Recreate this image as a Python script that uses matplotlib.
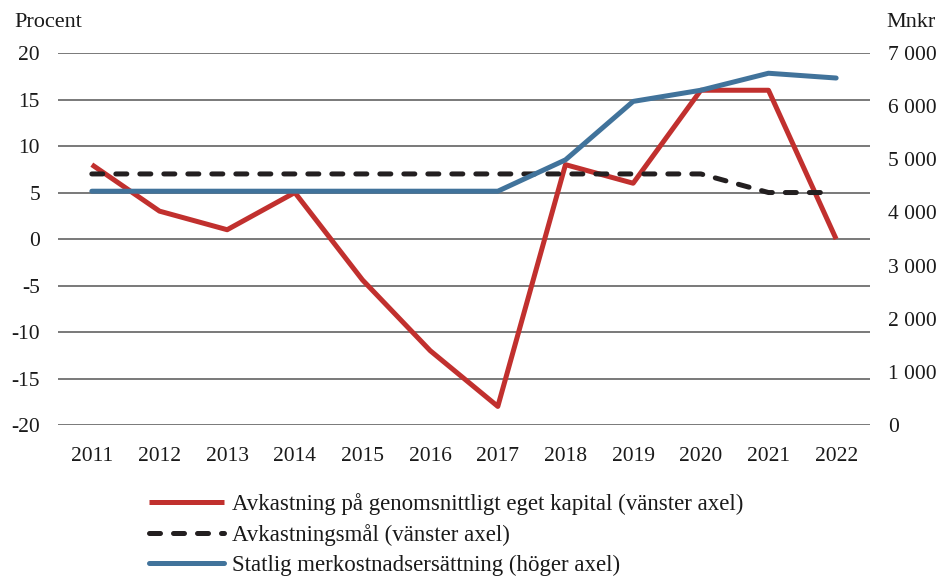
import matplotlib.pyplot as plt

plt.rcParams['font.family'] = ['Liberation Serif', 'DejaVu Serif']
plt.rcParams['axes.unicode_minus'] = False

years = ["2011", "2012", "2013", "2014", "2015", "2016", "2017", "2018", "2019", "2020", "2021", "2022"]
avkastning = [8, 3, 1, 5, -4.4, -12, -18, 8, 6, 16, 16, 0]
avkastningsmal = [7, 7, 7, 7, 7, 7, 7, 7, 7, 7, 5, 5]
ersattning = [4400, 4400, 4400, 4400, 4400, 4400, 4400, 4990, 6090, 6300, 6620, 6530]

left_ticks = [-20, -15, -10, -5, 0, 5, 10, 15, 20]
right_ticks = [0, 1000, 2000, 3000, 4000, 5000, 6000, 7000]

red = '#C1302E'
blue = '#41739B'
black = '#231F20'
txt = '#1A1A1A'

fig = plt.figure(figsize=(9.4, 5.83), dpi=100)
ax = fig.add_axes([0.0617, 0.271, 0.8638, 0.638])
ax2 = ax.twinx()

x = list(range(len(years)))

l1, = ax.plot(x, avkastning, color=red, lw=3.6, solid_capstyle='butt', zorder=3,
              label='Avkastning på genomsnittligt eget kapital (vänster axel)')
# the dashed line stops a little short of the last category
l2, = ax.plot(x[:-1] + [x[-1] - 0.12], avkastningsmal, color=black, lw=3.6,
              dashes=(2.2, 2.6), dash_capstyle='round', zorder=4,
              label='Avkastningsmål (vänster axel)')
l3, = ax2.plot(x, ersattning, color=blue, lw=3.6, solid_capstyle='round', zorder=3,
               label='Statlig merkostnadsersättning (höger axel)')

ax.set_xlim(-0.5, 11.5)
ax.set_ylim(-20, 20)
ax.set_yticks(left_ticks)
ax.set_xticks(x)
ax.set_xticklabels(years)
ax.yaxis.grid(True, color='#6E6E6E', linewidth=1.3)
ax.set_axisbelow(True)

ax2.set_ylim(0, 7000)
ax2.set_yticks(right_ticks)
ax2.set_yticklabels([f"{v:,}".replace(',', ' ') for v in right_ticks])

for a in (ax, ax2):
    for s in a.spines.values():
        s.set_visible(False)
    a.tick_params(length=0, labelsize=15.5, colors=txt)
ax.tick_params(axis='y', pad=13)
ax.tick_params(axis='x', pad=16)
ax2.tick_params(axis='y', pad=13)

fig.text(0.015, 0.962, 'Procent', fontsize=16, va='center', ha='left', color=txt)
fig.text(0.995, 0.962, 'Mnkr', fontsize=16, va='center', ha='right', color=txt)

fig.legend(handles=[l1, l2, l3], loc='upper left', bbox_to_anchor=(0.158, 0.155),
           frameon=False, fontsize=16.5, handlelength=3.3, handletextpad=0.35,
           labelspacing=0.4, borderaxespad=0, borderpad=0, labelcolor=txt)

fig.savefig('out.png', dpi=100)
